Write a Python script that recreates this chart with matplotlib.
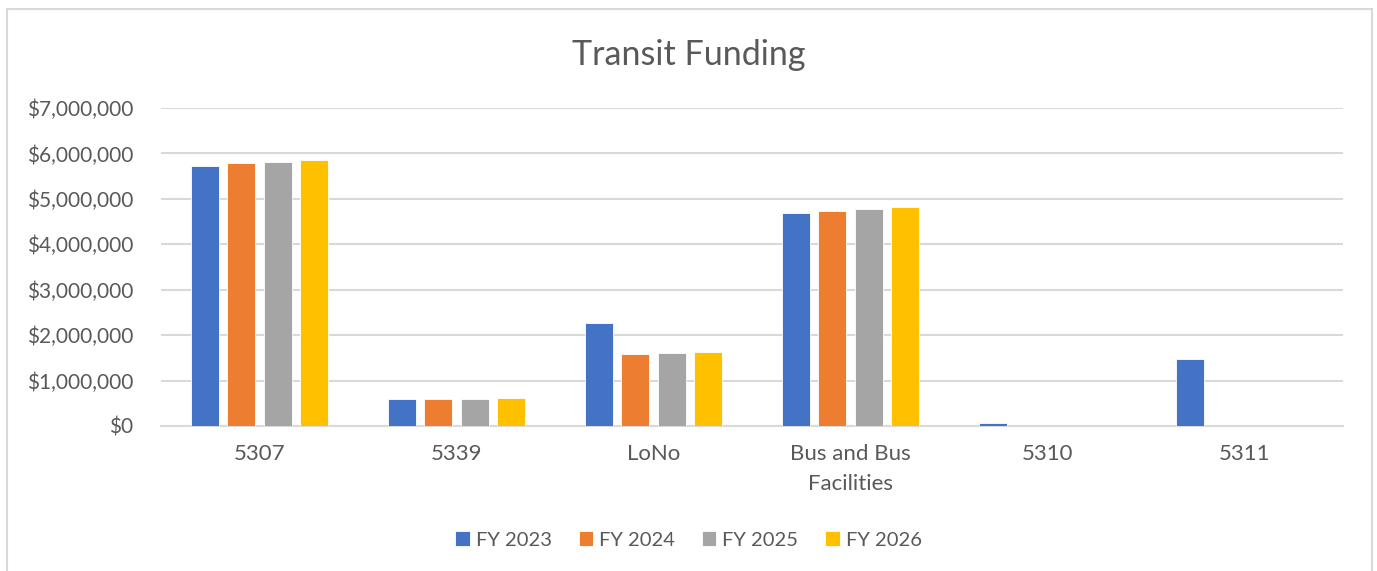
import numpy as np
import matplotlib.pyplot as plt
from matplotlib.ticker import FuncFormatter

plt.rcParams['font.family'] = ['Lato', 'DejaVu Sans']

categories = ["5307", "5339", "LoNo", "Bus and Bus\nFacilities", "5310", "5311"]
years = ["FY 2023", "FY 2024", "FY 2025", "FY 2026"]
fy2023 = [5720000, 590000, 2270000, 4690000, 60000, 1480000]
fy2024 = [5790000, 595000, 1590000, 4740000, 0, 0]
fy2025 = [5810000, 605000, 1610000, 4780000, 0, 0]
fy2026 = [5860000, 615000, 1630000, 4820000, 0, 0]
colors = ["#4472C4", "#ED7D31", "#A5A5A5", "#FFC000"]

series = [fy2023, fy2024, fy2025, fy2026]
txt = "#595959"
grid = "#D9D9D9"

fig = plt.figure(figsize=(13.77, 5.71), dpi=100)
# outer chart border
fig.patches.append(plt.Rectangle((7/1377, -0.01), (1372-7)/1377, (571-9)/571 + 0.01,
                                 transform=fig.transFigure, fill=False,
                                 edgecolor=grid, linewidth=1.5))

ax = fig.add_axes([161/1377, 1 - 426/571, (1343-161)/1377, (426-108)/571])

x = np.arange(len(categories))
w = 0.142
step = 0.183
for i, (vals, c, lab) in enumerate(zip(series, colors, years)):
    ax.bar(x + (i - 1.5) * step, vals, width=w, color=c, label=lab,
           edgecolor="white", linewidth=0.6, zorder=3)

ax.set_xlim(-0.5, len(categories) - 0.5)
ax.set_ylim(0, 7000000)
ax.set_yticks(np.arange(0, 7000001, 1000000))
ax.yaxis.set_major_formatter(FuncFormatter(lambda v, p: "${:,.0f}".format(v)))
ax.set_xticks(x)
ax.set_xticklabels(categories, linespacing=1.6)
ax.tick_params(axis='x', length=0, labelsize=16, colors=txt, pad=13)
ax.tick_params(axis='y', length=0, labelsize=15, colors=txt, pad=20)

ax.grid(axis='y', color=grid, linewidth=1.5, zorder=0)
for s in ["top", "right", "left"]:
    ax.spines[s].set_visible(False)
ax.spines["bottom"].set_color(grid)
ax.spines["bottom"].set_linewidth(1.5)

fig.text(0.5, 1 - 55/571, "Transit Funding", ha="center", va="center",
         fontsize=24.5, color=txt)

fig.legend(loc="center", bbox_to_anchor=(0.5, 1 - 540/571), ncol=4, frameon=False,
           fontsize=14.5, labelcolor=txt, handlelength=0.7, handleheight=0.7,
           handletextpad=0.3, columnspacing=1.35)

fig.savefig("out.png", dpi=100)
